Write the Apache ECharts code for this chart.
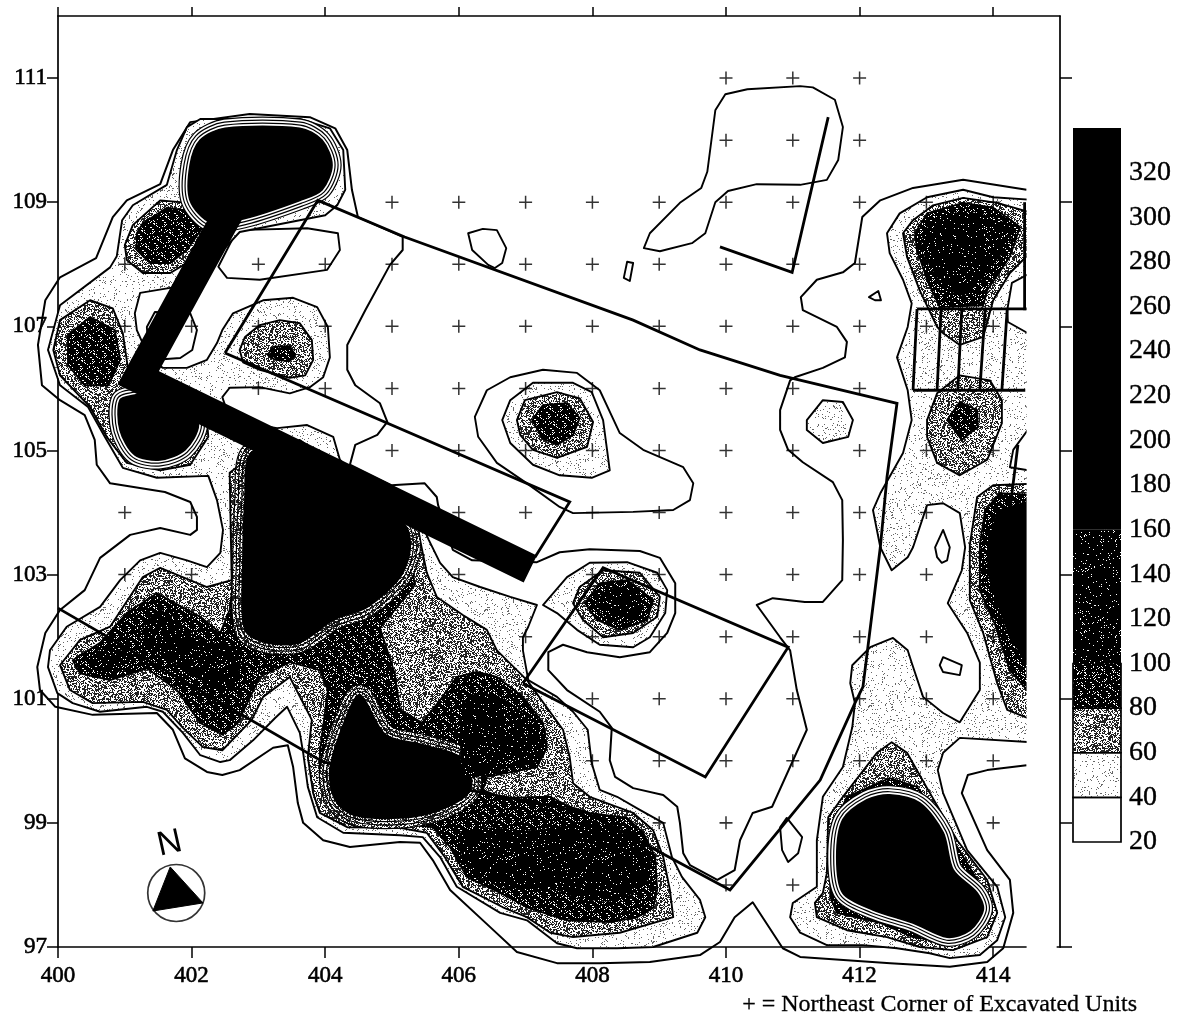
<!DOCTYPE html>
<html><head><meta charset="utf-8"><style>html,body{margin:0;padding:0;background:#fff}#c{width:1195px;height:1033px}</style>
<script src="https://cdn.jsdelivr.net/npm/echarts@6/dist/echarts.min.js"></script></head><body><div id="c"></div>
<script>
const xTicks=[400,402,404,406,408,410,412,414];
const yTicks=[97,99,101,103,105,107,109,111];
const barTicks=[20,40,60,80,100,120,140,160,180,200,220,240,260,280,300,320];
const plusRows=[[111,[410,411,412]],[110,[410,411,412]],[109,[405,406,407,408,409,410,411,412,413,414]],
[108,[401,403,404,405,406,407,408,409,410,411,412]],[107,[401,402,403,404,405,406,407,408,409,410,411,412,413,414]],
[106,[403,404,405,406,407,408,409,410,411,412]],[105,[405,406,407,408,409,410,411,412,413,414]],
[104,[401,402,406,407,408,409,410,411,412,413]],[103,[401,402,406,408,409,410,411,412,413]],
[102,[407,408,409,410,411,412,413,414]],[101,[408,409,410,411,412,413,414]],[100,[408,409,410,411,412,413,414]],
[99,[409,410,414]],[98,[410,411,414]]];

// contour 20 : long open line and closed loops
const c20main=[[414.5,109.2],[413.55,109.36],[412.8,109.23],[412.31,109.03],[412.04,108.76],[411.93,108.02],[411.75,107.87],[411.36,107.75],[411.12,107.47],[411.15,107.26],[411.66,106.99],[411.81,106.75],[411.78,106.5],[411.45,106.33],[411.03,106.18],[410.96,106.13],[410.81,105.65],[410.81,105.33],[410.93,105.01],[411.15,104.81],[411.6,104.49],[411.74,104.2],[411.75,103.56],[411.74,102.91],[411.45,102.56],[411.18,102.56],[410.7,102.62],[410.46,102.51],[410.81,101.99],[410.96,101.78],[411.06,101.14],[411.21,100.5],[410.69,99.26],[410.4,99.16],[410.21,98.72],[410.13,98.24],[409.87,98.08],[409.46,98.32],[409.36,98.51],[409.31,99],[409.27,99.26],[409.06,99.45],[408.61,99.56],[408.34,99.74],[408.26,100.01],[408.29,100.53],[408.11,100.79],[407.62,101.14],[407.34,101.46],[407.34,101.75],[407.56,101.87],[407.92,101.75],[408.41,101.67],[408.86,101.75],[409.12,102.06],[409.24,102.38],[409.24,102.86],[409.01,103.27],[408.71,103.38],[407.96,103.41],[407.51,103.36],[407.17,103.2],[406.2,103.23],[405.91,103.4],[405.69,104.12],[405.67,104.25],[405.49,104.47],[404.99,104.44],[404.37,104.77],[404.45,105.09],[404.78,105.25],[404.93,105.46],[404.82,105.76],[404.45,106.05],[404.33,106.3],[404.33,106.7],[404.6,107.26],[404.97,107.99],[405.16,108.23],[405.16,108.44],[404.49,108.76],[404.4,109.2],[404.33,109.84],[404.15,110.19],[403.77,110.37],[402.87,110.42],[401.98,110.29],[401.72,109.84],[401.53,109.29],[401.03,109.03],[400.82,108.76],[400.57,108.1],[400.03,107.79],[399.81,107.42],[399.7,106.7],[399.76,106.05],[400.03,105.81],[400.4,105.57],[400.55,105.17],[400.58,104.77],[400.78,104.47],[401.6,104.33],[401.98,104.17],[402.08,103.93],[402.08,103.72],[401.98,103.64],[401.53,103.75],[401.08,103.64],[400.63,103.27],[400.4,102.75],[400.03,102.43],[399.81,102.06],[399.69,101.51],[399.73,101.14],[399.96,100.87],[400.52,100.74],[401.48,100.77],[401.72,100.5],[401.9,100.04],[402.23,99.82],[402.46,99.77],[402.72,99.85],[403.22,100.21],[403.44,100.25],[403.52,99.9],[403.59,99.32],[403.67,99],[403.97,98.72],[404.37,98.61],[405.12,98.69],[405.42,98.68],[405.61,98.4],[405.87,97.92],[406.47,97.32],[406.87,96.92],[407.47,96.74],[408.11,96.74],[408.86,96.76],[409.61,96.87],[409.91,97.08],[410.13,97.48],[410.4,97.72],[410.85,96.98],[411.11,96.84],[412.46,96.74],[413.35,96.68],[413.91,96.76],[414.15,96.98],[414.3,97.55],[414.25,98.08],[413.91,98.56],[413.53,99.48],[413.62,99.77],[413.91,99.85],[414.5,99.93]];
const c20loops=[
[[409.99,110.74],[410.32,110.82],[411.11,110.87],[411.3,110.85],[411.63,110.65],[411.75,110.21],[411.68,109.68],[411.51,109.36],[411.11,109.28],[410.46,109.29],[410.03,109.18],[409.84,109],[409.69,108.5],[409.49,108.34],[409.01,108.21],[408.77,108.26],[408.86,108.5],[409.31,108.99],[409.63,109.23],[409.72,109.49],[409.84,110.48]],
[[406.14,108.5],[406.36,108.57],[406.57,108.55],[406.71,108.26],[406.65,108.02],[406.54,107.94],[406.44,107.99],[406.2,108.23]],
[[408.47,107.78],[408.52,108.04],[408.61,108.02],[408.56,107.73]],
[[412.14,107.47],[412.28,107.57],[412.32,107.42],[412.23,107.42]],
[[406.24,105.54],[406.42,105.97],[406.77,106.18],[407.26,106.3],[407.77,106.25],[408.11,105.97],[408.41,105.28],[408.76,105.01],[409.36,104.73],[409.51,104.47],[409.46,104.2],[409.21,104.04],[408.61,104.01],[407.71,103.99],[407.51,104.09],[407.02,104.47],[406.57,104.8],[406.29,105.22]],
[[413.2,101.54],[413.25,101.67],[413.53,101.54],[413.5,101.38],[413.25,101.43]],
[[413.13,103.44],[413.25,103.72],[413.35,103.44],[413.31,103.23],[413.23,103.19],[413.16,103.28]],
[[410.81,98.93],[410.91,99.08],[411.14,98.77],[411.08,98.51],[410.93,98.37],[410.84,98.56]],
[[402.68,108.55],[403.73,108.58],[404.19,108.5],[404.22,108.23],[404.03,107.91],[403.02,107.75],[402.53,107.78],[402.4,107.96]],
[[401.33,106.99],[401.45,107.23],[401.98,107.21],[402.08,106.94],[402.01,106.62],[401.83,106.49],[401.57,106.47],[401.35,106.7]]
];
// contour 40
const c40=[
[[400.03,107.34],[400.78,107.95],[400.88,108.13],[400.96,108.71],[401.12,108.95],[401.63,109.28],[401.78,109.84],[401.93,110.21],[402.13,110.34],[403.62,110.34],[404.07,110.19],[404.27,109.84],[404.3,109.2],[404.18,108.95],[404,108.79],[402.72,108.52],[401.98,107.66],[401.68,107.62],[401.23,107.54],[401.15,107.21],[401.18,106.94],[401.38,106.46],[401.57,106.33],[401.93,106.33],[402.23,106.46],[402.38,106.73],[402.46,106.94],[402.62,107.21],[403.07,107.42],[403.52,107.46],[403.88,107.31],[404.04,106.99],[404.07,106.5],[403.97,106.18],[403.77,106.02],[403.47,105.92],[403.02,106.02],[402.57,106.01],[402.46,105.86],[402.5,105.73],[402.99,105.41],[403.28,105.36],[403.73,105.41],[404.12,105.22],[404.22,104.85],[404.37,104.68],[405.42,103.88],[405.55,103.56],[405.72,103.19],[405.91,102.96],[406.32,102.8],[406.77,102.64],[407.17,102.51],[407.04,102.16],[406.96,101.99],[406.96,101.78],[407.04,101.3],[407.47,101.03],[407.71,100.79],[407.93,100.5],[407.99,99.96],[408.11,99.53],[408.37,99.42],[408.71,99.21],[409.06,99],[409.19,98.45],[409.34,98.13],[409.61,97.76],[409.69,97.48],[409.57,97.23],[408.91,97],[408.37,96.98],[407.77,96.98],[407.47,97.06],[407.02,97.43],[406.62,97.55],[405.97,97.97],[405.72,98.45],[405.46,98.77],[405.12,98.8],[404.27,98.84],[403.88,99.09],[403.74,99.58],[403.67,100.13],[403.62,100.45],[403.43,100.87],[403.25,100.69],[402.92,100.33],[402.57,100.01],[402.43,99.98],[402.13,100.09],[401.87,100.45],[401.57,100.79],[401.33,100.87],[400.63,100.79],[400.22,100.93],[399.99,101.09],[399.85,101.51],[399.88,101.78],[400.13,102.16],[400.63,102.48],[400.93,102.91],[401.23,103.23],[401.53,103.35],[401.93,103.23],[402.23,103.12],[402.43,103.35],[402.47,103.72],[402.38,104.2],[402.25,104.59],[401.48,104.56],[400.97,104.72],[400.7,105.22],[400.45,105.7],[400.03,106.05],[399.85,106.62]],
[[414.7,109.03],[414,109.08],[413.55,109.2],[413.01,109.08],[412.6,108.82],[412.41,108.5],[412.45,108.18],[412.65,107.75],[412.78,107.37],[412.72,106.99],[412.56,106.5],[412.72,105.97],[412.78,105.49],[412.65,104.96],[412.31,104.31],[412.2,104.04],[412.31,103.44],[412.48,103.07],[412.72,103.28],[412.8,103.44],[413.01,104.12],[413.25,104.15],[413.5,103.99],[413.58,103.44],[413.53,103.07],[413.32,102.54],[413.61,102.06],[413.8,101.58],[413.8,101.14],[413.5,100.62],[413.25,100.77],[412.95,101.03],[412.78,101.58],[412.72,101.78],[412.5,101.98],[412.16,101.83],[411.89,101.54],[411.86,101.25],[411.93,100.93],[411.89,100.54],[411.75,99.9],[411.45,99.42],[411.36,98.72],[411.36,97.97],[411,97.71],[410.96,97.48],[411.11,97.23],[411.51,97.03],[412.05,97.03],[412.56,96.98],[413.05,96.9],[413.35,96.82],[413.8,96.87],[414.06,97.11],[414.18,97.48],[414.06,97.97],[413.61,98.56],[413.25,99.48],[413.17,99.85],[413.25,100.13],[413.5,100.37],[414.7,100.29]],
[[411.21,105.49],[411.45,105.81],[411.75,105.78],[411.9,105.49],[411.83,105.22],[411.45,105.12],[411.21,105.33]],
[[406.65,105.49],[406.77,105.81],[407.11,106.09],[407.71,106.09],[407.99,105.94],[408.16,105.49],[408.26,104.68],[407.99,104.56],[407.51,104.6],[407.11,104.77],[406.77,105.12]],
[[407.26,102.51],[407.62,102.96],[407.96,103.19],[408.52,103.2],[408.97,103.03],[409.12,102.75],[409.09,102.38],[408.86,101.99],[408.61,101.83],[408.11,101.87],[407.77,102.11],[407.47,102.38]]
];
// white gaps inside contour 40
const holes=[
[[414.7,107.94],[414.28,107.7],[414.21,107.26],[414.22,107.07],[414.7,106.78]],
[[414.7,105.6],[414.3,105.01],[414.25,104.73],[414.7,104.65]]
];
// contour 60
const c60=[
[[402.72,106.62],[402.8,106.83],[403.02,107.02],[403.32,107.1],[403.62,107.05],[403.8,106.78],[403.82,106.46],[403.7,106.21],[403.47,106.17],[403.02,106.3],[402.77,106.42]],
[[401,108.31],[401.12,108.63],[401.53,109.03],[402.35,108.95],[402.13,108.47],[401.93,108.02],[401.68,107.86],[401.27,107.86],[401.03,108.07]],
[[400.03,107.1],[400.48,107.42],[400.82,107.29],[400.97,106.89],[401.05,106.3],[401.98,105.97],[402.23,105.49],[402.25,105.22],[401.98,104.77],[401.53,104.68],[401.03,104.8],[400.73,105.22],[400.48,105.7],[400.03,106.21],[399.93,106.62]],
[[402.57,104.64],[403.02,105.01],[405.12,104.04],[405.39,103.72],[405.52,103.03],[405.67,102.64],[406.06,102.35],[406.42,102.11],[406.57,101.78],[407.02,101.3],[407.56,100.5],[407.66,100.06],[407.71,99.64],[407.96,99.42],[408.61,99.16],[408.91,98.88],[409.06,98.45],[409.16,97.92],[409.21,97.48],[408.41,97.23],[407.71,97.16],[407.37,97.23],[407.02,97.48],[406.66,97.64],[406.06,97.97],[405.79,98.45],[405.52,98.84],[405.12,98.92],[404.33,98.93],[403.92,99.16],[403.82,99.48],[403.74,100.06],[403.8,100.66],[403.47,101.35],[403.07,101.03],[402.9,100.66],[402.46,100.17],[402.17,100.22],[401.87,100.53],[401.63,100.82],[401.27,100.95],[400.52,100.93],[400.18,101.14],[400.03,101.54],[400.33,101.95],[400.78,102.16],[401.27,102.96],[401.53,103.11],[402.23,102.8],[402.6,102.91]],
[[406.87,105.49],[406.99,105.81],[407.47,105.94],[407.81,105.84],[408.01,105.46],[407.92,105.06],[407.47,104.88],[407.11,105.01],[406.92,105.25]],
[[407.71,102.54],[407.81,102.8],[408.16,103.07],[408.71,103.03],[409.01,102.64],[408.97,102.32],[408.61,102.06],[408.16,101.99],[407.86,102.27]],
[[412.48,100.3],[412.71,100.13],[413.01,99.56],[413.46,98.72],[413.91,98.08],[414.06,97.55],[413.91,97.16],[413.4,96.95],[412.9,97],[412.41,97.16],[411.81,97.27],[411.36,97.48],[411.33,97.71],[411.45,97.87],[411.51,98.19],[411.53,99.09],[411.75,99.42],[412.26,100.13]],
[[412.65,108.5],[412.8,108.71],[413.1,108.95],[413.55,109.07],[414.06,108.99],[414.7,108.79],[414.7,108.34],[414.25,107.86],[414,107.42],[413.85,106.83],[413.5,106.7],[413.25,106.89],[413.16,106.99],[412.9,107.58],[412.71,108.12]],
[[413.01,105.49],[413.16,105.92],[413.5,106.21],[413.95,106.13],[414.13,105.81],[414.13,105.44],[413.91,104.85],[413.5,104.6],[413.16,104.8],[413.01,105.22]],
[[414.7,104.47],[414,104.44],[413.76,104.25],[413.65,103.48],[413.65,102.59],[413.85,102.06],[414.06,101.25],[414.21,100.82],[414.7,100.61]]
];
// contour 80
const c80=[
[[403.14,106.54],[403.22,106.67],[403.47,106.68],[403.55,106.54],[403.47,106.44],[403.25,106.46]],
[[401.18,108.23],[401.18,108.5],[401.27,108.66],[401.63,108.91],[402.23,108.82],[402.17,108.6],[401.93,108.23],[401.68,108.02],[401.38,108.02]],
[[400.15,106.86],[400.48,107.15],[400.85,106.94],[400.93,106.46],[400.75,106.05],[400.4,106.05],[400.15,106.38]],
[[402.72,104.68],[403.62,105.17],[405.19,103.96],[405.34,102.83],[404.82,102.14],[405.04,101.41],[405.12,100.82],[405.45,100.61],[405.72,100.98],[405.97,101.35],[406.27,101.43],[406.57,101.35],[406.96,101.03],[407.26,100.61],[407.32,100.22],[407.17,99.9],[406.42,99.74],[406.36,99.53],[406.66,99.4],[407.37,99.42],[407.66,99.26],[407.96,99.16],[408.52,99.08],[408.76,98.84],[408.94,98.45],[408.97,97.92],[408.91,97.63],[408.67,97.48],[408.26,97.4],[407.62,97.43],[407.02,97.64],[406.62,97.87],[406.12,98.13],[405.87,98.61],[405.61,98.93],[405.12,99],[404.37,99.05],[404.03,99.32],[403.92,99.64],[403.92,100.13],[404.04,101.14],[403.92,101.46],[403.47,101.59],[403.02,101.35],[402.69,100.61],[402.46,100.42],[402.13,100.61],[401.78,101.14],[401.33,101.49],[400.78,101.3],[400.33,101.41],[400.22,101.62],[400.63,101.9],[401.03,102.38],[401.48,102.7],[402.13,102.32],[402.43,102.06],[402.57,102.43],[402.68,103.4]],
[[407.1,105.49],[407.26,105.73],[407.62,105.76],[407.81,105.52],[407.71,105.25],[407.47,105.09],[407.25,105.2]],
[[407.89,102.54],[408.11,102.86],[408.52,102.91],[408.91,102.59],[408.82,102.27],[408.41,102.11],[408.07,102.27]],
[[412.45,99.72],[412.86,99.58],[413.31,98.88],[413.76,98.08],[413.91,97.6],[413.76,97.23],[413.4,97.06],[412.8,97.16],[412.31,97.39],[411.66,97.55],[411.56,97.81],[411.56,98.84],[411.81,99.42]],
[[412.83,108.5],[413.01,108.82],[413.55,108.99],[414,108.91],[414.4,108.6],[414.25,108.12],[413.91,107.58],[413.85,107.34],[413.2,107.31],[413.01,107.75],[412.86,108.23]],
[[413.31,105.49],[413.5,105.78],[413.76,105.65],[413.77,105.38],[413.53,105.17]],
[[414.7,104.28],[414.1,104.31],[413.88,104.04],[413.8,103.48],[413.8,102.75],[414.03,102.19],[414.25,101.46],[414.7,100.9]]
];
// darkest bodies with clean white-gapped rings
const coreClean=[
[[401.98,109.6],[402.13,110],[402.5,110.19],[403.62,110.19],[403.95,110],[404.1,109.6],[403.95,109.2],[403.62,109.03],[402.8,108.74],[402.28,108.68],[401.98,109.03]],
[[400.93,105.81],[401.15,105.89],[401.53,105.97],[401.9,105.81],[402.1,105.41],[401.9,105.01],[401.53,104.85],[401.15,104.93],[400.93,105.33]],
[[412.45,99.45],[412.9,99.32],[413.25,98.84],[413.4,98.24],[413.76,97.87],[413.85,97.6],[413.65,97.27],[413.31,97.16],[412.8,97.39],[412.2,97.6],[411.75,97.87],[411.66,98.45],[411.75,99.05],[412.11,99.37]]
];
// darkest bodies with dotted rings
const coreDotted=[
[[402.87,104.93],[402.8,104.2],[402.77,103.23],[402.8,102.11],[403.13,101.9],[403.62,101.91],[404.12,102.27],[404.63,102.48],[405.12,102.96],[405.27,103.4],[405.19,103.8],[404.07,104.68],[403.32,105.09]],
[[404.07,99.85],[404.3,100.66],[404.52,101.06],[404.9,100.42],[405.49,100.25],[406.09,100.01],[406.17,99.53],[405.72,99.21],[405.12,99.08],[404.42,99.13],[404.15,99.37]]
];
const coreEast=[[414.7,104.25],[414.06,104.04],[413.91,103.48],[413.91,103.03],[414,102.7],[414.25,101.95],[414.7,101.3]];
const speck=[
[[406.02,98.84],[406.12,98.29],[406.62,97.97],[407.41,97.92],[407.92,97.76],[408.41,97.76],[408.83,98.08],[408.86,98.45],[408.61,98.84],[407.96,99],[407.11,98.88],[406.36,98.93]],
[[406.06,100.87],[406.27,101.09],[406.62,101.03],[407.02,100.71],[407.32,100.33],[407.22,100.01],[406.62,99.85],[406.12,99.74],[406.02,100.22]],
[[400.45,101.62],[400.73,101.83],[401.12,101.67],[401.03,101.46],[400.58,101.46]],
[[401.23,101.95],[401.53,102.43],[402.13,101.95],[402.72,101.78],[402.57,101.14],[402.13,101.3],[401.68,101.62]],
[[408.07,102.54],[408.22,102.75],[408.56,102.8],[408.76,102.54],[408.61,102.27],[408.26,102.22]],
[[412.95,108.44],[413.16,108.76],[413.65,108.84],[414.1,108.71],[414.3,108.5],[414.06,108.07],[413.55,107.5],[413.2,107.75],[412.95,108.18]]
];
// thin survey outlines
const outlines=[
[[402.5,106.57],[403.89,109.03],[405.19,108.44],[408.61,107.1],[409.61,106.62],[410.81,106.21],[412.56,105.76],[412.41,104.57],[412.31,103.44],[412.05,101.19],[411.93,100.93],[411.41,99.69],[410.06,97.92],[407.92,99.16],[403.97,99.98],[400,102.46]],
[[402.5,106.57],[407.66,104.17],[407.14,103.28]],
[[406.96,101.25],[408.16,103.11],[410.93,101.83],[409.69,99.74],[406.96,101.25]],
[[409.91,108.28],[410.99,107.87],[411.53,110.37]],
[[412.86,107.28],[414.5,107.28]],[[412.8,105.97],[414.48,105.97]],
[[412.86,107.28],[412.8,105.97]],[[414.21,107.28],[414.13,105.97]],
[[413.22,107.28],[413.16,105.97]],[[413.53,107.28],[413.47,105.97]],[[413.88,107.28],[413.8,105.97]],
[[414.47,109],[414.47,107.26]],[[414.37,105.09],[414.25,104.04]]
];
const wall=[[402.6,108.92],[401.2,106.17],[407.07,103.09]];
const compassAt=[401.77,97.87];
const compassArrow=[[401.68,98.29],[402.17,97.71],[401.42,97.58]];
const clipEdge=[[414.5,96.6],[414.95,96.6],[414.95,111.9],[414.5,111.9]];
const legendBands=[[20,40,0],[40,60,1],[60,80,2],[80,100,3],[100,160,4],[160,340,5]];

function tex(bg,fg,th,seed){const c=document.createElement('canvas');c.width=c.height=96;const g=c.getContext('2d');g.fillStyle=bg;g.fillRect(0,0,96,96);g.fillStyle=fg;let s=seed;for(let y=0;y<96;y++)for(let x=0;x<96;x++){s=(s*1103515245+12345)&0x7fffffff;if(((s>>16)&255)<th)g.fillRect(x,y,1,1);}return{image:c,repeat:'repeat'};}
const T40=tex('#fff','#666',20,11),T60=tex('#fff','#222',125,23),T80=tex('#000','#fff',36,37),T100=tex('#000','#fff',10,51);
const fills=['#fff',T40,T60,T80,T100,'#000'];
const serif='"Liberation Serif","Times New Roman",serif';

function polyLayer(list,fill,opts,z){opts=opts||{};return{type:'custom',coordinateSystem:'cartesian2d',xAxisIndex:0,yAxisIndex:0,clip:false,silent:true,z:z,
 data:list.map((_,i)=>[i]),encode:{x:-1,y:-1},
 renderItem(p,api){const pts=list[p.dataIndex].map(q=>api.coord(q));const sm=opts.smooth||0;
  const kids=[];
  (opts.rings||[]).forEach(r=>{
    kids.push({type:'polygon',shape:{points:pts,smooth:sm},style:{fill:'none',stroke:'#000',lineWidth:r+1.6,lineJoin:'round'}});
    kids.push({type:'polygon',shape:{points:pts,smooth:sm},style:{fill:'none',stroke:opts.ringFill||'#fff',lineWidth:r-0.8,lineJoin:'round'}});
  });
  kids.push({type:opts.open?'polyline':'polygon',shape:{points:pts,smooth:sm},style:{fill:opts.open?'none':fill,stroke:opts.stroke===undefined?'#000':opts.stroke,lineWidth:opts.lw||1.9,lineJoin:opts.join||'round',lineCap:'butt'}});
  return{type:'group',children:kids};}};}

const plusData=[];plusRows.forEach(r=>r[1].forEach(x=>plusData.push([x,r[0]])));
const ax={color:'#000',fontFamily:serif,fontSize:23,textBorderColor:'#000',textBorderWidth:0.6};
const line={lineStyle:{color:'#000',width:1.7}};
const chart=echarts.init(document.getElementById('c'),null,{renderer:'canvas'});
chart.setOption({animation:false,backgroundColor:'#fff',
 grid:[{left:58,top:16,width:1002,height:931},{left:1073,top:128,width:48,height:714}],
 xAxis:[
  {gridIndex:0,type:'value',min:400,max:415,position:'bottom',splitLine:{show:false},axisLine:line,axisTick:{length:11,lineStyle:{width:1.5,color:'#000'},customValues:xTicks},axisLabel:Object.assign({margin:17,customValues:xTicks},ax)},
  {gridIndex:0,type:'value',min:400,max:415,position:'top',splitLine:{show:false},axisLine:line,axisTick:{length:9,lineStyle:{width:1.5,color:'#000'},customValues:xTicks},axisLabel:{show:false}},
  {gridIndex:1,type:'value',min:0,max:1,show:false}],
 yAxis:[
  {gridIndex:0,type:'value',min:97,max:112,position:'left',splitLine:{show:false},axisLine:line,axisTick:{length:11,lineStyle:{width:1.5,color:'#000'},customValues:yTicks},axisLabel:Object.assign({margin:11,customValues:yTicks},ax)},
  {gridIndex:0,type:'value',min:97,max:112,position:'right',splitLine:{show:false},axisLine:line,axisTick:{length:12,lineStyle:{width:1.5,color:'#000'},customValues:yTicks},axisLabel:{show:false}},
  {gridIndex:1,type:'value',min:20,max:340,position:'right',splitLine:{show:false},axisLine:{show:false},axisTick:{show:false},axisLabel:{margin:8,color:'#000',fontFamily:serif,fontSize:28,textBorderColor:'#000',textBorderWidth:0.4,customValues:barTicks}}],
 series:[
  polyLayer([c20main],'none',{open:true,lw:2},3),
  polyLayer(c20loops,'none',{lw:1.9},3),
  polyLayer(c40,T40,{},4),
  polyLayer(holes,'#fff',{},5),
  polyLayer(c60,T60,{},6),
  polyLayer(c80,T80,{},7),
  polyLayer(coreDotted,'#000',{rings:[20,13,6],ringFill:T60,smooth:0.3},8),
  polyLayer(coreClean,'#000',{rings:[18,12,6],ringFill:'#fff',smooth:0.3},8),
  polyLayer([coreEast],'#000',{stroke:'none',lw:0},8),
  polyLayer(speck,T100,{stroke:'none',lw:0,smooth:0.3},9),
  {type:'custom',xAxisIndex:0,yAxisIndex:0,clip:false,silent:true,z:10,data:[[0]],encode:{x:-1,y:-1},renderItem(p,api){const q=clipEdge.map(v=>api.coord(v));return{type:'polygon',shape:{points:q},style:{fill:'#fff'}};}},
  {type:'scatter',xAxisIndex:0,yAxisIndex:0,silent:true,z:11,clip:false,data:plusData,symbol:'path://M5.3 0h1.4v5.3h5.3v1.4h-5.3v5.3h-1.4v-5.3h-5.3v-1.4h5.3z',symbolSize:13,itemStyle:{color:'#000'}},
  polyLayer(outlines,'none',{open:true,lw:2.8,join:'miter'},12),
  polyLayer([wall],'none',{open:true,lw:30,join:'miter'},13),
  {type:'scatter',xAxisIndex:0,yAxisIndex:0,silent:true,z:14,clip:false,data:[compassAt],symbol:'circle',symbolSize:57,itemStyle:{color:'#fff',borderColor:'#000',borderWidth:1.7}},
  polyLayer([compassArrow],'#000',{lw:1,join:'miter'},15),
  {type:'custom',xAxisIndex:2,yAxisIndex:2,silent:true,z:5,data:legendBands,encode:{x:-1,y:[0,1]},renderItem(p,api){const a=api.coord([0,api.value(0)]),b=api.coord([1,api.value(1)]);const i=api.value(2);return{type:'rect',shape:{x:a[0],y:b[1],width:b[0]-a[0],height:a[1]-b[1]},style:{fill:fills[i],stroke:i<4?'#000':'none',lineWidth:i<4?1.7:0}};}}
 ],
 graphic:[
  {type:'text',left:742,top:993,style:{text:'+ = Northeast Corner of Excavated Units',font:'24px '+serif,fill:'#000',stroke:'#000',lineWidth:0.3}},
  {type:'text',x:154,y:830,rotation:0.22,style:{text:'N',font:'34px "Liberation Sans",sans-serif',fill:'#000'}}
 ]});
</script></body></html>
